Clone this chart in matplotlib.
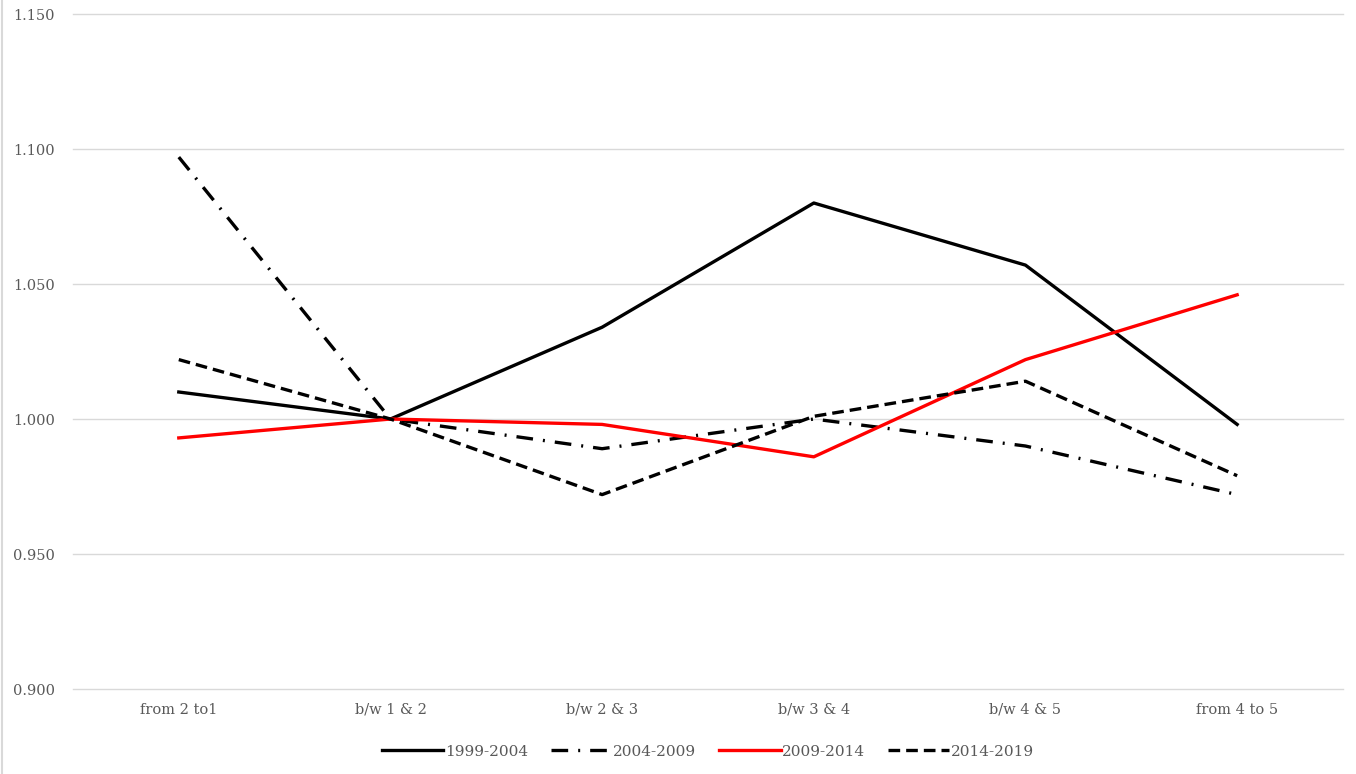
import matplotlib.pyplot as plt
from matplotlib.lines import Line2D

categories = ["from 2 to1", "b/w 1 & 2", "b/w 2 & 3", "b/w 3 & 4", "b/w 4 & 5", "from 4 to 5"]
s_1999_2004 = [1.010, 1.000, 1.034, 1.080, 1.057, 0.998]
s_2004_2009 = [1.097, 1.000, 0.989, 1.000, 0.990, 0.972]
s_2009_2014 = [0.993, 1.000, 0.998, 0.986, 1.022, 1.046]
s_2014_2019 = [1.022, 1.000, 0.972, 1.001, 1.014, 0.979]
yticks = [0.900, 0.950, 1.000, 1.050, 1.100, 1.150]

plt.rcParams["font.family"] = ["DejaVu Serif"]
txt = "#595959"

fig = plt.figure(figsize=(13.56, 7.74), dpi=100)
ax = fig.add_axes([0.0538, 0.1098, 0.9366, 0.8721])

# horizontal gridlines, drawn unclipped so the edge lines stay full width
for v in yticks:
    ax.axhline(v, color="#d9d9d9", lw=1, zorder=0, clip_on=False)

x = range(len(categories))
lw = 2.4
ax.plot(x, s_1999_2004, color="black", lw=lw, label="1999-2004")
ax.plot(x, s_2004_2009, color="black", lw=lw, dashes=(5, 3, 0.6, 3), label="2004-2009")
ax.plot(x, s_2009_2014, color="#ff0000", lw=lw, label="2009-2014")
ax.plot(x, s_2014_2019, color="black", lw=lw, dashes=(3.5, 1.8), label="2014-2019")

ax.set_xlim(-0.5, len(categories) - 0.5)
ax.set_ylim(0.9, 1.15)
ax.set_yticks(yticks)
ax.set_yticklabels([f"{v:.3f}" for v in yticks])
ax.set_xticks(list(x))
ax.set_xticklabels(categories)
ax.tick_params(length=0, labelsize=10.5, colors=txt)
ax.tick_params(axis="y", pad=13)
ax.tick_params(axis="x", pad=10)
for sp in ax.spines.values():
    sp.set_visible(False)

leg = ax.legend(loc="upper center", bbox_to_anchor=(0.5, -0.062), ncol=4, frameon=False,
                fontsize=11, handlelength=4.0, handletextpad=0.1, columnspacing=1.5)
for t in leg.get_texts():
    t.set_color(txt)

# chart border on the left edge
fig.add_artist(Line2D([0.0015, 0.0015], [0, 1], transform=fig.transFigure, color="#d9d9d9", lw=1.5))

fig.savefig("out.png", dpi=100)
